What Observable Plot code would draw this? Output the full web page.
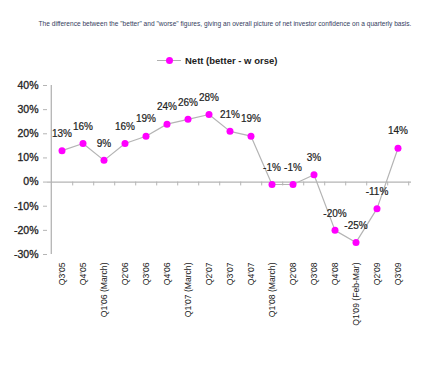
<!DOCTYPE html>
<html>
<head>
<meta charset="utf-8">
<script src="https://cdn.jsdelivr.net/npm/d3@7"></script>
<script src="https://cdn.jsdelivr.net/npm/@observablehq/plot@0.6"></script>
<style>
  html, body { margin: 0; padding: 0; background: #fff; }
  #wrap { position: relative; width: 440px; height: 366px; overflow: hidden; font-family: "Liberation Sans", Arial, sans-serif; }
  #sub { position: absolute; left: 0; width: 450px; top: 20px; text-align: center; font-size: 6.6px; color: #34405e; white-space: nowrap; }
  #legend { position: absolute; left: 157px; top: 53px; height: 14px; display: flex; align-items: center; font-size: 9.5px; font-weight: bold; color: #222; }
  #legend .sw { position: relative; width: 24px; height: 14px; margin-right: 4px; }
  #legend .ln { position: absolute; left: 0; right: 0; top: 7px; height: 1px; background: #b0b0b0; }
  #legend .dt { position: absolute; left: 8.5px; top: 3.5px; width: 7px; height: 7px; border-radius: 50%; background: #ff00ff; }
  #chart { position: absolute; left: 0; top: 0; }
</style>
</head>
<body>
<div id="wrap">
  <div id="chart"></div>
  <div id="sub">The difference between the "better" and "worse" figures, giving an overall picture of net investor confidence on a quarterly basis.</div>
  <div id="legend"><div class="sw"><div class="ln"></div><div class="dt"></div></div><span>Nett (better - w orse)</span></div>
</div>
<script>
const quarters = ["Q3'05", "Q4'05", "Q1'06 (March)", "Q2'06", "Q3'06", "Q4'06", "Q1'07 (March)", "Q2'07", "Q3'07", "Q4'07", "Q1'08 (March)", "Q2'08", "Q3'08", "Q4'08", "Q1'09 (Feb-Mar)", "Q2'09", "Q3'09"];
const nett = [13, 16, 9, 16, 19, 24, 26, 28, 21, 19, -1, -1, 3, -20, -25, -11, 14];
const yTicks = [-30, -20, -10, 0, 10, 20, 30, 40];

const data = quarters.map((q, i) => ({q, v: nett[i]}));

const W = 440, H = 366, mL = 47, mR = 29, mT = 85, mB = 112;
const bw = (W - mL - mR) / quarters.length;

const chart = Plot.plot({
  width: W,
  height: H,
  marginLeft: mL,
  marginRight: mR,
  marginTop: mT,
  marginBottom: mB,
  style: {fontFamily: "'Liberation Sans', Arial, sans-serif", background: "transparent", overflow: "visible"},
  x: {type: "band", domain: quarters, padding: 0},
  y: {domain: [-30, 40]},
  marks: [
    Plot.ruleX([quarters[0]], {y1: -30, y2: 40, dx: -bw / 2, stroke: "#b4b4b4", strokeWidth: 1.3}),
    Plot.ruleY([0], {stroke: "#b4b4b4", strokeWidth: 1.3}),
    Plot.ruleX(quarters, {x: d => d, y1: 0, y2: -1.6, dx: bw / 2, stroke: "#b4b4b4", strokeWidth: 1}),
    Plot.axisY({ticks: yTicks, tickFormat: d => d + "%", tickSize: 4, tickPadding: 5, stroke: "#b4b4b4", fontSize: 10.5, fill: "#222", textStroke: "#222", textStrokeWidth: 0.3, label: null}),
    Plot.axisX({anchor: "bottom", tickRotate: -90, tickSize: 0, tickPadding: 8, fontSize: 8.6, fill: "#222", label: null}),
    Plot.line(data, {x: "q", y: "v", stroke: "#b4b4b4", strokeWidth: 1.2}),
    Plot.dot(data, {x: "q", y: "v", r: 3.5, fill: "#ff00ff", stroke: "none"}),
    Plot.text(data, {x: "q", y: "v", text: d => d.v + "%", dy: -17, fontSize: 10, fill: "#222", stroke: "#222", strokeWidth: 0.2})
  ]
});
document.getElementById("chart").appendChild(chart);
</script>
</body>
</html>
